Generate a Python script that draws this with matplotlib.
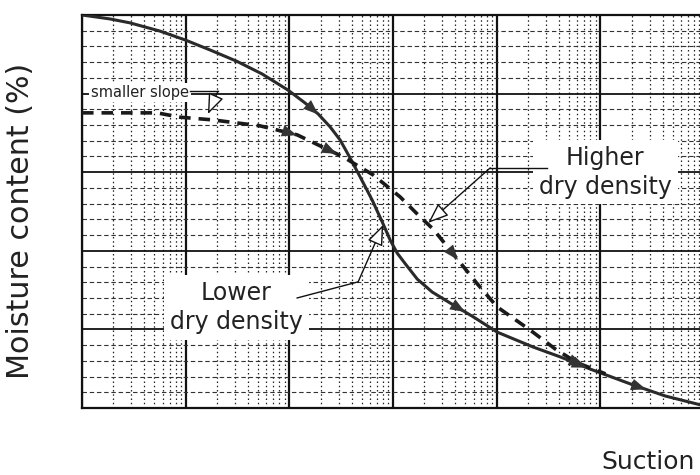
import numpy as np
import matplotlib
matplotlib.use("Agg")
import matplotlib.pyplot as plt
from matplotlib.ticker import LogLocator, MultipleLocator, NullFormatter
from matplotlib.patches import FancyArrowPatch

# soil-water characteristic curves (suction on log scale, moisture in % of range)
suction_low = [1, 1.86, 2.9, 5.66, 10, 17.2, 31.3, 54.6, 97, 142, 190, 248, 309, 386, 482,
               630, 804, 940, 1098, 1340, 1714, 2390, 3565, 5943, 10130, 22550, 41100,
               80000, 208000, 424000, 923000, 1e6]
moisture_low = [100, 99.0, 98.0, 95.9, 93.6, 91.1, 88.2, 85.0, 80.9, 77.6, 74.8, 71.5, 68.2,
                63.6, 58.8, 52.9, 46.8, 42.7, 39.4, 36.4, 32.8, 29.5, 26.7, 23.2, 19.3, 15.5,
                13.0, 9.9, 5.85, 3.05, 0.8, 0.5]

suction_high = [1, 5.3, 8.8, 18.4, 52, 119, 198, 330, 644, 1173, 1832, 2445, 4170, 6500,
                10130, 21100, 36800, 60000, 112000]
moisture_high = [75.1, 75.1, 74.0, 73.3, 71.8, 69.5, 66.7, 63.9, 59.3, 53.7, 48.6, 45.5, 37.9,
                 31.6, 25.7, 19.8, 15.0, 11.5, 8.7]

# where the direction arrows sit on each curve
arrows_low = [190, 5000, 75000, 280000]
arrows_high = [120, 290, 4200, 70000]

fig = plt.figure(figsize=(7, 4.75), dpi=100)
ax = fig.add_axes([82 / 700, 1 - 408 / 475, 622 / 700, 393 / 475])

ax.set_xscale("log")
ax.set_xlim(1, 1e6)
ax.set_ylim(0, 100)
ax.xaxis.set_major_locator(LogLocator(base=10, numticks=10))
ax.xaxis.set_minor_locator(LogLocator(base=10, subs=np.arange(2, 10), numticks=20))
ax.xaxis.set_minor_formatter(NullFormatter())
ax.yaxis.set_major_locator(MultipleLocator(20))
ax.yaxis.set_minor_locator(MultipleLocator(4))
ax.tick_params(which="both", length=0, labelbottom=False, labelleft=False)
ax.set_axisbelow(True)

ax.grid(which="major", axis="x", color="#111111", lw=1.6, ls="-")
ax.grid(which="major", axis="y", color="#111111", lw=1.3, ls="-")
ax.grid(which="minor", axis="y", color="#333333", lw=0.8, ls=(0, (4, 2.5)))
ax.grid(which="minor", axis="x", color="#222222", lw=0.9, ls=(0, (1.2, 2.2)))
for sp in ax.spines.values():
    sp.set_linewidth(1.6)
    sp.set_color("#111111")

ax.plot(suction_low, moisture_low, color="#2a2a2a", lw=2.2, zorder=4)
ax.plot(suction_high, moisture_high, color="#1a1a1a", lw=2.6, ls=(0, (3.2, 2.2)), zorder=4)


def put_arrows(xs, ys, where, color):
    lx = np.log10(xs)
    for s in where:
        a = np.log10(s)
        p0 = (10 ** (a - 0.06), np.interp(a - 0.06, lx, ys))
        p1 = (10 ** (a + 0.02), np.interp(a + 0.02, lx, ys))
        ax.add_patch(FancyArrowPatch(p0, p1, arrowstyle="-|>,head_length=0.9,head_width=0.35",
                                     mutation_scale=12, color=color, lw=0, zorder=5))


put_arrows(suction_low, moisture_low, arrows_low, "#333333")
put_arrows(suction_high, moisture_high, arrows_high, "#333333")

open_head = dict(arrowstyle="-|>,head_length=0.9,head_width=0.35", mutation_scale=14,
                 fc="white", ec="#111111", lw=1.0, shrinkA=0, shrinkB=0)
box = dict(boxstyle="square,pad=0.15", fc="white", ec="none")
big_box = dict(boxstyle="square,pad=0.25", fc="white", ec="none")

# "smaller slope" callout
ax.text(3.63, 80.3, "smaller slope", fontsize=10.5, ha="center", va="center",
        color="#222222", bbox=box, zorder=6)
ax.plot([11, 20.5], [80.6, 80.6], color="#111111", lw=1.0, zorder=6)
ax.annotate("", xy=(16.4, 74.8), xytext=(20.5, 80.6), arrowprops=open_head, zorder=6)

# "Lower dry density" callout
ax.text(30.7, 25.6, "Lower\ndry density", fontsize=17, ha="center", va="center",
        linespacing=1.25, color="#222222", bbox=big_box, zorder=6)
ax.plot([119, 461], [28.0, 32.1], color="#111111", lw=1.0, zorder=6)
ax.annotate("", xy=(804, 46.6), xytext=(461, 32.1), arrowprops=open_head, zorder=6)

# "Higher dry density" callout
ax.text(112000, 60.0, "Higher\ndry density", fontsize=17, ha="center", va="center",
        linespacing=1.25, color="#222222", bbox=big_box, zorder=6)
ax.plot([30800, 8670], [61.1, 61.1], color="#111111", lw=1.0, zorder=6)
ax.annotate("", xy=(2185, 47.1), xytext=(8670, 61.1), arrowprops=open_head, zorder=6)

fig.text(21 / 700, 1 - 221 / 475, "Moisture content (%)", rotation=90, fontsize=21.7,
         ha="center", va="center", color="#222222")
fig.text(601 / 700, 1 - 469 / 475, "Suction", fontsize=18, ha="left", va="baseline",
         color="#222222")

fig.savefig("out.png", dpi=100)
